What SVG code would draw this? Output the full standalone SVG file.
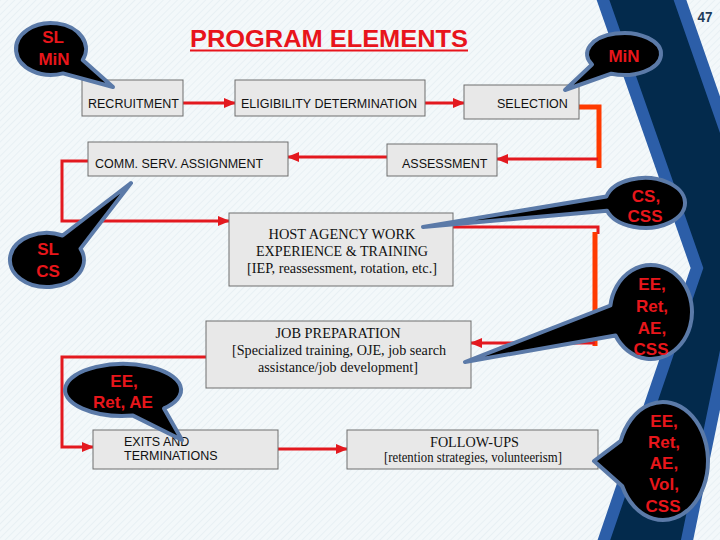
<svg xmlns="http://www.w3.org/2000/svg" width="720" height="540" viewBox="0 0 720 540">
<defs>
<pattern id="hatch" width="5" height="5" patternUnits="userSpaceOnUse" patternTransform="rotate(45)">
<rect width="5" height="5" fill="#f3f8fa"/>
<line x1="0" y1="0" x2="0" y2="5" stroke="#e5eef3" stroke-width="1.5"/>
</pattern>
<marker id="arr" markerUnits="userSpaceOnUse" markerWidth="12" markerHeight="10" refX="11" refY="5" orient="auto">
<path d="M0,0 L12,5 L0,10 Z" fill="#e3191f"/>
</marker>
</defs>
<style>
.box{fill:#e8e8e8;stroke:#6e6e6e;stroke-width:1}
.sans{font-family:"Liberation Sans",Arial,sans-serif;font-size:12.5px;fill:#111}
.serif{font-family:"Liberation Serif","Times New Roman",serif;font-size:14px;fill:#111;text-anchor:middle}
.red{fill:none;stroke:#e3191f;stroke-width:3}
.org{fill:none;stroke:#ff3a00;stroke-width:5}
.bub{fill:#000;stroke:#5b7aa8;stroke-width:4;stroke-linejoin:round}
.bt{font-family:"Liberation Sans",Arial,sans-serif;font-weight:bold;font-size:17px;fill:#e8161b;text-anchor:middle}
</style>
<rect width="720" height="540" fill="url(#hatch)"/>
<polygon points="599.5,-10 697,268 600.5,550 685,550 740,283 740,172 676.5,-10" fill="#032a4c" stroke="#2c5ea8" stroke-width="12" stroke-linejoin="miter"/>
<text x="705" y="22" font-family="Liberation Sans,Arial,sans-serif" font-weight="bold" font-size="15" fill="#1e3c5a" text-anchor="middle" textLength="15" lengthAdjust="spacingAndGlyphs">47</text>
<g id="title">
<text x="190" y="47" font-family="Liberation Sans,Arial,sans-serif" font-weight="bold" font-size="24" fill="#e8141c" textLength="278" lengthAdjust="spacingAndGlyphs">PROGRAM ELEMENTS</text>
<rect x="190" y="49.5" width="278" height="2" fill="#e8141c"/>
</g>
<g id="connectors">
<path class="red" d="M183,103 H235" stroke-width="3.5" marker-end="url(#arr)"/>
<path class="red" d="M425,103 H464" stroke-width="3.5" marker-end="url(#arr)"/>
<path class="org" d="M579,107 H599 V168"/>
<path class="red" d="M598,159 H497" marker-end="url(#arr)"/>
<path class="red" d="M387,157 H288" marker-end="url(#arr)"/>
<path class="red" d="M88,161 H62 V221 H229" marker-end="url(#arr)"/>
<path class="red" d="M453,227 H598 V234"/>
<path class="org" d="M595,232 V346"/>
<path class="red" d="M595,343 H471" marker-end="url(#arr)"/>
<path class="red" d="M206,357 H62 V447 H93" marker-end="url(#arr)"/>
<path class="red" d="M278,449 H347" stroke-width="4" marker-end="url(#arr)"/>
</g>
<g id="recruitment"><rect class="box" x="82" y="80" width="101" height="36"/><text class="sans" x="88" y="107.5">RECRUITMENT</text></g>
<g id="eligibility"><rect class="box" x="235" y="80" width="190" height="36"/><text class="sans" x="241" y="107.5">ELIGIBILITY DETERMINATION</text></g>
<g id="selection"><rect class="box" x="464" y="85" width="115" height="34"/><text class="sans" x="497" y="107.5">SELECTION</text></g>
<g id="assessment"><rect class="box" x="387" y="144" width="110" height="32"/><text class="sans" x="402" y="167.5">ASSESSMENT</text></g>
<g id="comm"><rect class="box" x="88" y="142" width="200" height="34"/><text class="sans" x="95" y="167.5">COMM. SERV. ASSIGNMENT</text></g>
<g id="host"><rect class="box" x="229" y="213" width="224" height="73"/>
<text class="serif" x="342" y="239" textLength="147" lengthAdjust="spacingAndGlyphs">HOST AGENCY WORK</text>
<text class="serif" x="342" y="256" textLength="172" lengthAdjust="spacingAndGlyphs">EXPERIENCE &amp; TRAINING</text>
<text class="serif" x="342" y="273" textLength="190" lengthAdjust="spacingAndGlyphs">[IEP, reassessment, rotation, etc.]</text></g>
<g id="jobprep"><rect class="box" x="206" y="321" width="265" height="67"/>
<text class="serif" x="338" y="338" textLength="125" lengthAdjust="spacingAndGlyphs">JOB PREPARATION</text>
<text class="serif" x="339" y="355" textLength="214" lengthAdjust="spacingAndGlyphs">[Specialized training, OJE, job search</text>
<text class="serif" x="338" y="372" textLength="160" lengthAdjust="spacingAndGlyphs">assistance/job development]</text></g>
<g id="exits"><rect class="box" x="93" y="430" width="185" height="39"/>
<text class="sans" x="124" y="445.5">EXITS  AND</text>
<text class="sans" x="124" y="459.5">TERMINATIONS</text></g>
<g id="followups"><rect class="box" x="347" y="430" width="251" height="39"/>
<text class="serif" x="474.5" y="447" textLength="89" lengthAdjust="spacingAndGlyphs">FOLLOW-UPS</text>
<text class="serif" x="473" y="461.5" font-size="12.5" textLength="178" lengthAdjust="spacingAndGlyphs">[retention strategies, volunteerism]</text></g>
<g id="bubble-sl-min"><path class="bub" d="M82.7,60 A35 26 0 1 0 63,73.4 L113,87 Z"/>
<text class="bt" x="53" y="43" font-size="16">SL</text><text class="bt" x="54" y="65" font-size="16">MiN</text></g>
<g id="bubble-min"><path class="bub" d="M611.3,73.7 A37 21 0 1 0 592,64.5 L565,90 Z"/>
<text class="bt" x="624" y="62">MiN</text></g>
<g id="bubble-sl-cs"><path class="bub" d="M62.6,235.5 A37 27 0 1 0 80.5,248.6 L131,183 Z"/>
<text class="bt" x="48" y="255">SL</text><text class="bt" x="48" y="277">CS</text></g>
<g id="bubble-cs-css"><path class="bub" d="M607,210.7 A40 25 0 1 0 606.4,196.5 L423,227 Z"/>
<text class="bt" x="646" y="202">CS,</text><text class="bt" x="645" y="222">CSS</text></g>
<g id="bubble-ee-ret-ae-css"><path class="bub" d="M615.5,335.5 A41 47 0 1 0 610.4,305.5 L465,362 Z"/>
<text class="bt" x="652" y="290">EE,</text><text class="bt" x="652" y="312">Ret,</text><text class="bt" x="652" y="334">AE,</text><text class="bt" x="651" y="355">CSS</text></g>
<g id="bubble-ee-ret-ae"><path class="bub" d="M164,408.4 A58 26 0 1 0 133,415.6 L182,440 Z"/>
<text class="bt" x="124" y="387">EE,</text><text class="bt" x="123" y="408">Ret, AE</text></g>
<g id="bubble-vol"><path class="bub" d="M622.2,486 A45 59 0 1 0 620.7,440.8 L594,461 Z"/>
<text class="bt" x="664" y="427">EE,</text><text class="bt" x="664" y="448">Ret,</text><text class="bt" x="664" y="469">AE,</text><text class="bt" x="664" y="490">Vol,</text><text class="bt" x="663" y="512">CSS</text></g>
</svg>
